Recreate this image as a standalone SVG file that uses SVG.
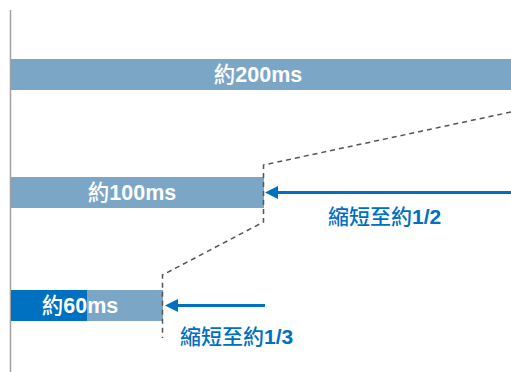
<svg xmlns="http://www.w3.org/2000/svg" width="511" height="372" viewBox="0 0 511 372">
<defs>
<style>
.bar{fill:#7BA6C6}
.dark{fill:#0070C0}
.lbl{font-family:"Liberation Sans","Noto Sans CJK TC",sans-serif;font-weight:bold;font-size:21.5px;fill:#fff;text-anchor:middle}
.note{font-family:"Liberation Sans","Noto Sans CJK TC",sans-serif;font-weight:bold;font-size:21px;fill:#0070C0}
.cjk{font-family:"Noto Sans CJK TC",sans-serif;font-weight:500}
.arrow{stroke:#0070C0;stroke-width:3;fill:none}
.dash{stroke:#555;stroke-width:1.5;fill:none;stroke-dasharray:5 4}
</style>
</defs>
<rect width="511" height="372" fill="#fff"/>
<line x1="10.5" y1="10" x2="10.5" y2="372" stroke="#a0a0a0" stroke-width="1.5"/>
<g id="bar200">
<rect class="bar" x="11" y="59" width="500" height="31"/>
<text class="lbl" x="258" y="82"><tspan class="cjk">約</tspan>200ms</text>
</g>
<g id="bar100">
<rect class="bar" x="11" y="177" width="253" height="31"/>
<text class="lbl" x="132" y="200"><tspan class="cjk">約</tspan>100ms</text>
</g>
<g id="bar60">
<rect class="bar" x="11" y="290" width="152" height="31"/>
<rect class="dark" x="11" y="290" width="76" height="31"/>
<text class="lbl" x="80" y="313"><tspan class="cjk">約</tspan>60ms</text>
</g>
<g id="connectors">
<path class="dash" d="M511,112 L263.5,165 L263.5,222 L162.5,275 L162.5,338"/>
<line class="arrow" x1="511" y1="192.5" x2="277" y2="192.5"/>
<path d="M265,192.5 L278,186 L278,199 Z" fill="#0070C0"/>
<line class="arrow" x1="265" y1="305.5" x2="177" y2="305.5"/>
<path d="M165,305.5 L178,299 L178,312 Z" fill="#0070C0"/>
</g>
<g id="note12">
<text class="note" x="328" y="224"><tspan class="cjk">縮短至約</tspan>1/2</text>
</g>
<g id="note13">
<text class="note" x="180" y="344"><tspan class="cjk">縮短至約</tspan>1/3</text>
</g>
</svg>
